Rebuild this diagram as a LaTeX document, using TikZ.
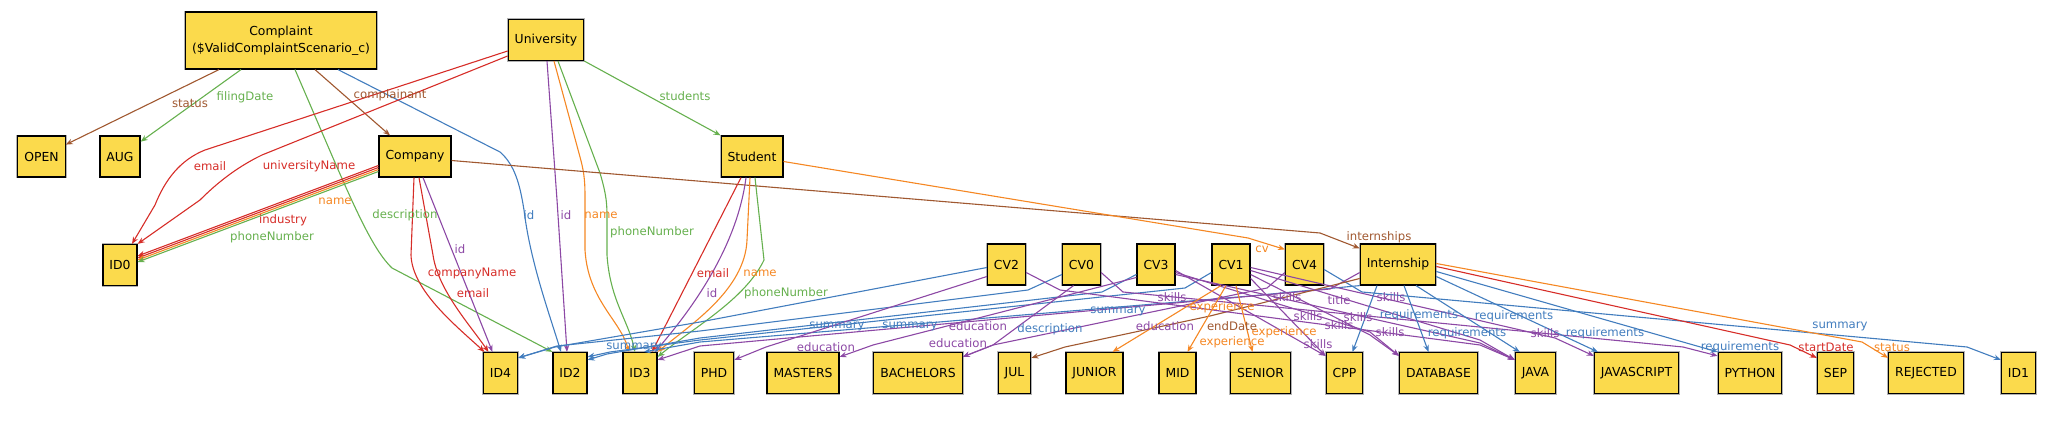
\documentclass[tikz,border=0pt]{standalone}
\usepackage{fontspec}
\newfontfamily\dv{DejaVu Sans}
\usetikzlibrary{arrows.meta}
\definecolor{nodefill}{RGB}{251,218,76}
\definecolor{cred}{RGB}{214,45,40}
\definecolor{cbrown}{RGB}{160,88,48}
\definecolor{cgreen}{RGB}{102,176,78}
\definecolor{cblue}{RGB}{66,125,190}
\definecolor{cpurple}{RGB}{140,72,165}
\definecolor{corange}{RGB}{245,135,35}
\tikzset{
 box/.style={draw=black, line width=1.2pt, fill=nodefill, inner xsep=6.5pt, inner ysep=0pt,
   minimum height=41pt, align=center, font=\dv\fontsize{12.4}{17}\selectfont,
   preaction={draw=black!30, line width=2.8pt}},
 lbl/.style={font=\dv\fontsize{11.7}{13}\selectfont, inner sep=0pt},
 e/.style={line width=1.1pt, -{Stealth[length=7pt,width=5.5pt]}},
}
\begin{document}
\begin{tikzpicture}[x=1pt,y=-1pt]
\useasboundingbox (0,0) rectangle (2066,438);
% nodes
\node[box, minimum height=57pt, inner xsep=7pt] (Complaint) at (281,40.5) {Complaint\\(\$ValidComplaintScenario\_c)};
\node[box] (University) at (546,40) {University};
\node[box] (OPEN) at (41.5,156.5) {OPEN};
\node[box] (AUG) at (120,156.5) {AUG};
\node[box] (Company) at (415,156.5) {Company};
\node[box] (Student) at (752,156.5) {Student};
\node[box] (ID0) at (120,265) {ID0};
\node[box] (CV2) at (1006.5,264.5) {CV2};
\node[box] (CV0) at (1081.5,264.5) {CV0};
\node[box] (CV3) at (1156,264.5) {CV3};
\node[box] (CV1) at (1231,264.5) {CV1};
\node[box] (CV4) at (1304.5,264.5) {CV4};
\node[box] (Internship) at (1398,264.5) {Internship};
\node[box] (ID4) at (500.5,373) {ID4};
\node[box] (ID2) at (570,373) {ID2};
\node[box] (ID3) at (640,373) {ID3};
\node[box] (PHD) at (714,373) {PHD};
\node[box] (MASTERS) at (803,373) {MASTERS};
\node[box] (BACHELORS) at (918,373) {BACHELORS};
\node[box] (JUL) at (1014.5,373) {JUL};
\node[box] (JUNIOR) at (1094.5,373) {JUNIOR};
\node[box] (MID) at (1177.5,373) {MID};
\node[box] (SENIOR) at (1260.5,373) {SENIOR};
\node[box] (CPP) at (1344.5,373) {CPP};
\node[box] (DATABASE) at (1438.5,373) {DATABASE};
\node[box] (JAVA) at (1535.5,373) {JAVA};
\node[box] (JAVASCRIPT) at (1636.5,373) {JAVASCRIPT};
\node[box] (PYTHON) at (1750,373) {PYTHON};
\node[box] (SEP) at (1835.5,373) {SEP};
\node[box] (REJECTED) at (1926,373) {REJECTED};
\node[box] (ID1) at (2018.5,373) {ID1};
% Complaint edges
\draw[e,cbrown] ([xshift=-62pt]Complaint.south) -- (OPEN);
\draw[e,cgreen] ([xshift=-40pt]Complaint.south) -- (AUG);
\draw[e,cbrown] ([xshift=34pt]Complaint.south) -- ([xshift=-25pt]Company.north);
\draw[e,cgreen] ([xshift=14pt]Complaint.south) .. controls (345,185) and (368,245) .. (392,268) -- (ID2.north west);
\draw[e,cblue] ([xshift=57pt]Complaint.south) -- (500,152) .. controls (515,165) and (520,185) .. (524,210) .. controls (530,260) and (548,310) .. ([xshift=-9pt]ID2.north);
% University edges
\draw[e,cred] ([yshift=-11pt]University.west) -- (205,150) .. controls (180,160) and (165,180) .. (155,205) -- ([xshift=12pt]ID0.north);
\draw[e,cred] ([yshift=-16pt]University.west) -- (262,155) .. controls (235,168) and (215,185) .. (200,200) -- (ID0.north east);
\draw[e,cpurple] ([xshift=1pt]University.south) -- (557,200) -- ([xshift=-3pt]ID2.north);
\draw[e,corange] ([xshift=8pt]University.south) -- (580,157) .. controls (585,175) and (585,185) .. (585,200) -- (585,250) .. controls (588,300) and (620,320) .. ([xshift=-11pt]ID3.north);
\draw[e,cgreen] ([xshift=12pt]University.south) -- (600,173) .. controls (605,190) and (607,200) .. (607,215) -- (607,255) .. controls (610,300) and (628,320) .. ([xshift=-5pt]ID3.north);
\draw[e,cgreen] (University.south east) -- (Student.north west);
% Company edges
\draw[e,cred] ([yshift=-9pt]Company.west) -- ([yshift=9pt]ID0.east);
\draw[e,cred] ([yshift=-11pt]Company.west) -- ([yshift=7pt]ID0.east);
\draw[e,corange] ([yshift=-13pt]Company.west) -- ([yshift=5pt]ID0.east);
\draw[e,cgreen] ([yshift=-15pt]Company.west) -- ([yshift=3pt]ID0.east);
\draw[e,cred] ([xshift=-1pt]Company.south) -- (411,255) .. controls (412,290) and (455,325) .. ([xshift=-16pt]ID4.north);
\draw[e,cred] ([xshift=4pt]Company.south) -- (433,255) .. controls (438,290) and (470,325) .. ([xshift=-12pt]ID4.north);
\draw[e,cpurple] ([xshift=8pt]Company.south) -- ([xshift=-8pt]ID4.north);
\draw[e,cbrown] ([yshift=-4pt]Company.east) -- (1320,233) -- ([yshift=-5pt]Internship.north west);
% Student edges
\draw[e,cred] ([xshift=-11pt]Student.south) -- ([xshift=12pt]ID3.north);
\draw[e,cpurple] ([xshift=-6pt]Student.south) .. controls (738,240) and (700,300) .. ([xshift=15pt]ID3.north);
\draw[e,corange] ([xshift=-2pt]Student.south) -- (747,240) .. controls (745,290) and (690,325) .. (ID3.north east);
\draw[e,cgreen] ([xshift=3pt]Student.south) -- (764,260) .. controls (745,300) and (690,330) .. ([yshift=-5pt]ID3.north east);
\draw[e,corange] ([yshift=-5pt]Student.east) -- (1248,238) -- ([yshift=-6pt]CV4.north west);
% summaries
\draw[e,cblue] ([yshift=-3pt]CV2.west) -- (700,322) -- (555,347) -- ([yshift=-6pt]ID4.north east);
\draw[e,cblue] ([yshift=-10pt]CV0.west) -- (1028,290) -- (700,331) -- (557,346) -- ([yshift=-6pt]ID4.north east);
\draw[e,cblue] ([yshift=-10pt]CV3.west) -- (1102,292) -- (700,338) -- (607,354) -- ([yshift=-8pt]ID2.north east);
\draw[e,cblue] ([yshift=-8pt]CV1.west) -- (1185,288) -- (700,340) -- (610,352) -- ([yshift=-5pt]ID2.north east);
\draw[e,cblue] (Internship.south west) -- (1250,296) -- (700,342) -- ([xshift=4pt]ID3.north);
\draw[e,cblue] ([yshift=-5pt]CV4.east) -- (1362,292) -- (1967,347) -- ([yshift=-8pt]ID1.north west);
% education
\draw[e,cpurple] ([yshift=-12pt]CV2.west) -- (766,347) -- ([yshift=-8pt]PHD.north east);
\draw[e,cpurple] ([yshift=-13pt]CV3.west) -- (873,345) -- ([yshift=-5pt]MASTERS.north east);
\draw[e,cpurple] ([yshift=-8pt]CV4.west) -- (1267,288) -- (993,345) -- ([yshift=-5pt]BACHELORS.north east);
\draw[e,cpurple] ([xshift=-8pt]CV0.south) -- (993,345) -- ([yshift=-5pt]BACHELORS.north east);
% Internship edges
\draw[e,cpurple] ([yshift=-8pt]Internship.west) -- (1330,289) -- (700,346) -- ([yshift=-8pt]ID3.north east);
\draw[e,cbrown] ([yshift=-14pt]Internship.west) -- (1210,316) -- (1065,347) -- ([yshift=-6pt]JUL.north east);
% skills
\draw[e,cpurple] ([yshift=-6pt]CV3.east) -- ([yshift=-4pt]CPP.north west);
\draw[e,cpurple] ([yshift=-8pt]CV3.east) -- (1370,332) -- ([yshift=-4pt]DATABASE.north west);
\draw[e,cpurple] ([yshift=-10pt]CV3.east) -- (1480,343) -- ([yshift=-8pt]JAVA.north west);
\draw[e,cpurple] ([yshift=-14pt]CV1.east) -- ([yshift=-4pt]CPP.north west);
\draw[e,cpurple] ([yshift=-10pt]CV1.east) -- (1370,335) -- ([yshift=-4pt]DATABASE.north west);
\draw[e,cpurple] ([yshift=-6pt]CV1.east) -- (1480,340) -- ([yshift=-8pt]JAVA.north west);
\draw[e,cpurple] ([yshift=-3pt]CV1.east) -- (1555,338) -- ([yshift=-4pt]JAVASCRIPT.north west);
\draw[e,cpurple] ([yshift=-8pt]CV2.east) -- (1060,290) -- (1480,345) -- ([yshift=-8pt]JAVA.north west);
\draw[e,cpurple] ([yshift=-8pt]CV0.east) -- (1123,292) -- (1683,347) -- ([yshift=-4pt]PYTHON.north west);
% experience
\draw[e,corange] ([xshift=-10pt]CV1.south) -- ([xshift=18pt]JUNIOR.north);
\draw[e,corange] ([xshift=-5pt]CV1.south) -- ([xshift=10pt]MID.north);
\draw[e,corange] ([xshift=5pt]CV1.south) -- ([xshift=-8pt]SENIOR.north);
% requirements and others
\draw[e,cblue] ([xshift=-21pt]Internship.south) -- ([xshift=8pt]CPP.north);
\draw[e,cblue] ([xshift=6pt]Internship.south) -- ([xshift=-10pt]DATABASE.north);
\draw[e,cblue] ([xshift=18pt]Internship.south) -- ([xshift=5pt]JAVA.north west);
\draw[e,cblue] ([yshift=-12pt]Internship.east) -- ([xshift=4pt]JAVASCRIPT.north west);
\draw[e,cblue] ([yshift=-7pt]Internship.east) -- (PYTHON.north west);
\draw[e,cred] ([yshift=-2pt]Internship.east) -- (1790,345) -- ([yshift=-6pt]SEP.north west);
\draw[e,corange] ([yshift=1pt]Internship.east) -- (1862,342) -- ([yshift=-6pt]REJECTED.north west);
% labels
\node[lbl,text=cbrown] (l1) at (190,103) {status};
\node[lbl,text=cgreen] (l2) at (245,97) {filingDate};
\node[lbl,text=cbrown] (l3) at (390,95) {complainant};
\node[lbl,text=cgreen] (l4) at (685,96) {students};
\node[lbl,text=cred] (l5) at (210,166) {email};
\node[lbl,text=cred] (l6) at (309,166) {universityName};
\node[lbl,text=corange] (l7) at (335,201) {name};
\node[lbl,text=cred] (l8) at (283,220) {industry};
\node[lbl,text=cgreen] (l9) at (272,237) {phoneNumber};
\node[lbl,text=cgreen] (l10) at (405,215) {description};
\node[lbl,text=cblue] (l11) at (529,215) {id};
\node[lbl,text=cpurple] (l12) at (566,215) {id};
\node[lbl,text=corange] (l13) at (601,215) {name};
\node[lbl,text=cgreen] (l14) at (652,232) {phoneNumber};
\node[lbl,text=cpurple] (l15) at (460,249) {id};
\node[lbl,text=cred] (l16) at (472,273) {companyName};
\node[lbl,text=cred] (l17) at (473,293) {email};
\node[lbl,text=cred] (l18) at (713,273) {email};
\node[lbl,text=corange] (l19) at (760,273) {name};
\node[lbl,text=cpurple] (l20) at (712,293) {id};
\node[lbl,text=cgreen] (l21) at (786,293) {phoneNumber};
\node[lbl,text=corange] (l22) at (1262,249) {cv};
\node[lbl,text=cbrown] (l23) at (1379,237) {internships};
\node[lbl,text=cblue] (l24) at (837,326) {summary};
\node[lbl,text=cblue] (l25) at (910,326) {summary};
\node[lbl,text=cblue] (l26) at (1118,311) {summary};
\node[lbl,text=cblue] (l27) at (634,347) {summary};
\node[lbl,text=cblue] (l28) at (1840,326) {summary};
\node[lbl,text=cpurple] (l29) at (826,347) {education};
\node[lbl,text=cpurple] (l30) at (958,343) {education};
\node[lbl,text=cpurple] (l31) at (978,326) {education};
\node[lbl,text=cpurple] (l32) at (1165,326) {education};
\node[lbl,text=cblue] (l33) at (1050,329) {description};
\node[lbl,text=corange] (l34) at (1222,307) {experience};
\node[lbl,text=corange] (l35) at (1232,342) {experience};
\node[lbl,text=corange] (l36) at (1284,332) {experience};
\node[lbl,text=cbrown] (l37) at (1232,326) {endDate};
\node[lbl,text=cpurple] (l38) at (1172,297) {skills};
\node[lbl,text=cpurple] (l39) at (1287,297) {skills};
\node[lbl,text=cpurple] (l40) at (1391,297) {skills};
\node[lbl,text=cpurple] (l41) at (1308,316) {skills};
\node[lbl,text=cpurple] (l42) at (1358,317) {skills};
\node[lbl,text=cpurple] (l43) at (1339,325) {skills};
\node[lbl,text=cpurple] (l44) at (1318,344) {skills};
\node[lbl,text=cpurple] (l45) at (1390,332) {skills};
\node[lbl,text=cpurple] (l46) at (1545,333) {skills};
\node[lbl,text=cpurple] (l47) at (1339,300) {title};
\node[lbl,text=cblue] (l48) at (1419,315) {requirements};
\node[lbl,text=cblue] (l49) at (1514,316) {requirements};
\node[lbl,text=cblue] (l50) at (1467,333) {requirements};
\node[lbl,text=cblue] (l51) at (1605,333) {requirements};
\node[lbl,text=cblue] (l52) at (1740,347) {requirements};
\node[lbl,text=cred] (l53) at (1826,347) {startDate};
\node[lbl,text=corange] (l54) at (1892,347) {status};
\end{tikzpicture}
\end{document}
